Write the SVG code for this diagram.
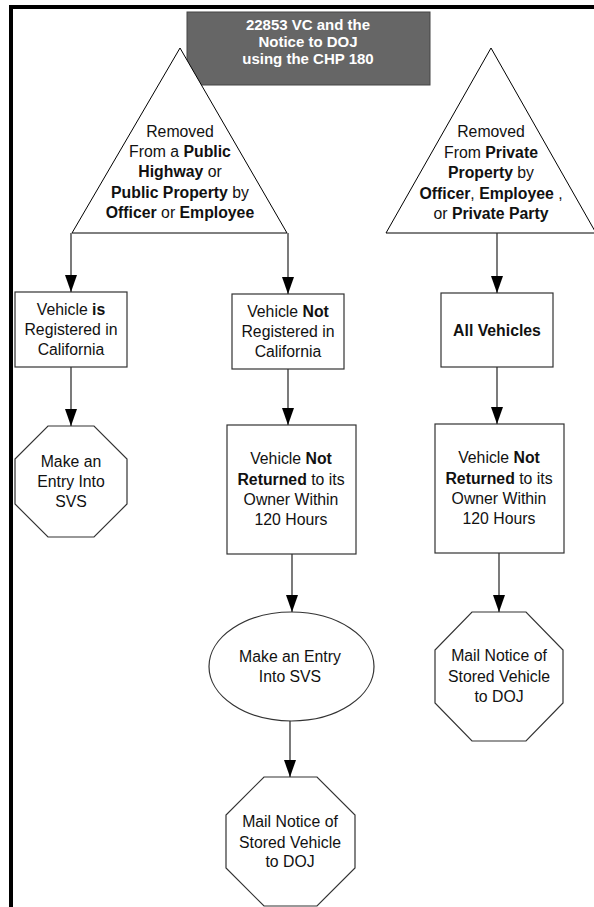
<svg xmlns="http://www.w3.org/2000/svg" width="594" height="907" viewBox="0 0 594 907">
<style>
  text { font-family: "Liberation Sans", Arial, sans-serif; font-size: 15.8px; fill: #111; text-anchor: middle; }
  .b { font-weight: bold; }
  .title { fill: #fff; font-weight: bold; font-size: 15px; }
  .shape { fill: #fff; stroke: #333; stroke-width: 1.2; }
  .tri { fill: #fff; stroke: #000; stroke-width: 1; }
  .conn line { stroke: #333; stroke-width: 1.3; }
</style>
<defs>
  <marker id="ah" viewBox="0 0 17 12" refX="17" refY="6" markerWidth="17" markerHeight="12" markerUnits="userSpaceOnUse" orient="auto">
    <path d="M0,0 L17,6 L0,12 Z" fill="#000"/>
  </marker>
</defs>
<rect width="594" height="907" fill="#fff"/>
<g id="frame">
  <rect x="9" y="5" width="585" height="4" fill="#000"/>
  <rect x="9" y="5" width="4" height="902" fill="#000"/>
</g>
<g id="title">
  <rect x="187" y="12" width="243" height="73" fill="#666" stroke="#444" stroke-width="1"/>
  <text class="title" x="308" y="30">22853 VC and the</text>
  <text class="title" x="308" y="47">Notice to DOJ</text>
  <text class="title" x="308" y="64">using the CHP 180</text>
</g>
<g id="public">
  <polygon class="tri" points="180,48 287,233 72,233"/>
  <text x="180" y="137">Removed</text>
  <text x="180" y="157">From a <tspan class="b">Public</tspan></text>
  <text x="180" y="177"><tspan class="b">Highway</tspan> or</text>
  <text x="180" y="198"><tspan class="b">Public Property</tspan>  by</text>
  <text x="180" y="218"><tspan class="b">Officer</tspan> or <tspan class="b">Employee</tspan></text>
</g>
<g id="private">
  <polygon class="tri" points="491,48 596,233 386,233"/>
  <text x="491" y="137">Removed</text>
  <text x="491" y="158">From <tspan class="b">Private</tspan></text>
  <text x="491" y="178"><tspan class="b">Property</tspan> by</text>
  <text x="491" y="199"><tspan class="b">Officer</tspan>, <tspan class="b">Employee</tspan> ,</text>
  <text x="491" y="219">or <tspan class="b">Private Party</tspan></text>
</g>
<g id="registered">
  <rect class="shape" x="15" y="292" width="112" height="75"/>
  <text x="71" y="315">Vehicle  <tspan class="b">is</tspan></text>
  <text x="71" y="335">Registered in</text>
  <text x="71" y="355">California</text>
</g>
<g id="entry1">
  <polygon class="shape" points="48,426 94,426 127,459 127,504 94,537 48,537 15,504 15,459"/>
  <text x="71" y="467">Make an</text>
  <text x="71" y="487">Entry Into</text>
  <text x="71" y="507">SVS</text>
</g>
<g id="notregistered">
  <rect class="shape" x="232" y="294" width="112" height="75"/>
  <text x="288" y="317">Vehicle  <tspan class="b">Not</tspan></text>
  <text x="288" y="337">Registered in</text>
  <text x="288" y="357">California</text>
</g>
<g id="notreturned1">
  <rect class="shape" x="227" y="425" width="129" height="129"/>
  <text x="291" y="464">Vehicle  <tspan class="b">Not</tspan></text>
  <text x="291" y="485"><tspan class="b">Returned</tspan> to its</text>
  <text x="291" y="505">Owner Within</text>
  <text x="291" y="525">120 Hours</text>
</g>
<g id="entry2">
  <ellipse class="shape" cx="291.5" cy="666.5" rx="82.5" ry="54.5"/>
  <text x="290" y="662">Make an Entry</text>
  <text x="290" y="682">Into SVS</text>
</g>
<g id="mail1">
  <polygon class="shape" points="264,777 317,777 355,815 355,868 317,906 264,906 226,868 226,815"/>
  <text x="290" y="827">Mail Notice of</text>
  <text x="290" y="848">Stored Vehicle</text>
  <text x="290" y="867">to DOJ</text>
</g>
<g id="allvehicles">
  <rect class="shape" x="441" y="293" width="112" height="74"/>
  <text class="b" x="497" y="336">All Vehicles</text>
</g>
<g id="notreturned2">
  <rect class="shape" x="435" y="424" width="129" height="129"/>
  <text x="499" y="463">Vehicle  <tspan class="b">Not</tspan></text>
  <text x="499" y="484"><tspan class="b">Returned</tspan> to its</text>
  <text x="499" y="504">Owner Within</text>
  <text x="499" y="524">120 Hours</text>
</g>
<g id="mail2">
  <polygon class="shape" points="472,612 526,612 563,650 563,703 526,741 472,741 435,703 435,650"/>
  <text x="499" y="661">Mail Notice of</text>
  <text x="499" y="682">Stored Vehicle</text>
  <text x="499" y="702">to DOJ</text>
</g>
<g id="connectors" class="conn">
  <line x1="71" y1="233" x2="71" y2="292" marker-end="url(#ah)"/>
  <line x1="71" y1="367" x2="71" y2="426" marker-end="url(#ah)"/>
  <line x1="288" y1="233" x2="288" y2="294" marker-end="url(#ah)"/>
  <line x1="288" y1="369" x2="288" y2="425" marker-end="url(#ah)"/>
  <line x1="292" y1="554" x2="292" y2="612" marker-end="url(#ah)"/>
  <line x1="290" y1="721" x2="290" y2="777" marker-end="url(#ah)"/>
  <line x1="497" y1="233" x2="497" y2="293" marker-end="url(#ah)"/>
  <line x1="497" y1="367" x2="497" y2="424" marker-end="url(#ah)"/>
  <line x1="499" y1="553" x2="499" y2="612" marker-end="url(#ah)"/>
</g>
</svg>
